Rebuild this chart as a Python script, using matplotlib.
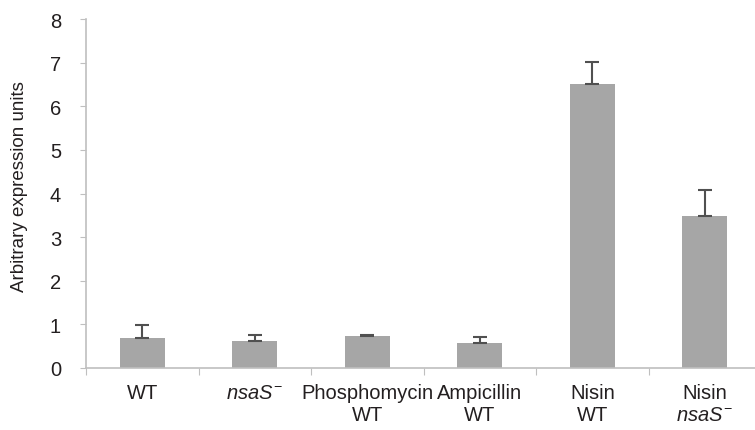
import matplotlib
matplotlib.use("Agg")
import matplotlib.pyplot as plt
import numpy as np

categories = ["WT", "$\\mathit{nsaS}^{-}$", "Phosphomycin\nWT", "Ampicillin\nWT",
              "Nisin\nWT", "Nisin\n$\\mathit{nsaS}^{-}$"]
values = [0.68, 0.63, 0.73, 0.57, 6.51, 3.49]
errors = [0.31, 0.13, 0.03, 0.13, 0.50, 0.60]
yticks = [0, 1, 2, 3, 4, 5, 6, 7, 8]

plt.rcParams['font.family'] = ['Liberation Sans', 'DejaVu Sans']
plt.rcParams['mathtext.fontset'] = 'custom'
plt.rcParams['mathtext.rm'] = 'Liberation Sans'
plt.rcParams['mathtext.it'] = 'Liberation Sans:italic'

fig = plt.figure(figsize=(7.55, 4.31), dpi=100)
ax = fig.add_axes([86/755, 62/431, 675/755, 349/431])

x = np.arange(len(categories)) + 0.5
ax.bar(x, values, width=0.4, color="#a6a6a6", zorder=2)
ax.errorbar(x, values, yerr=[np.zeros(len(errors)), errors], fmt='none',
            ecolor="#505050", elinewidth=1.5, capsize=5, capthick=1.5, zorder=3)

ax.set_xlim(0, len(categories))
ax.set_ylim(0, 8)
ax.set_yticks(yticks)
ax.set_yticklabels([str(t) for t in yticks])
ax.set_xticks(np.arange(len(categories) + 1))
ax.set_xticklabels([])
ax.set_xticks(x, minor=True)
ax.set_xticklabels(categories, minor=True, fontsize=14.5, color="#231f20", linespacing=1.2)
ax.tick_params(axis='x', which='minor', length=0, pad=11)
ax.tick_params(axis='x', which='major', length=5, direction='out', color="#bfbfbf")
ax.tick_params(axis='y', length=4, direction='out', color="#bfbfbf", labelsize=14.5,
               labelcolor="#231f20", pad=14)

for s in ['top', 'right']:
    ax.spines[s].set_visible(False)
for s in ['left', 'bottom']:
    ax.spines[s].set_color("#bfbfbf")
    ax.spines[s].set_linewidth(1.2)

ax.set_ylabel("Arbitrary expression units", fontsize=13.5, color="#231f20")
ax.yaxis.set_label_coords(-0.086, 0.523)

fig.savefig("out.png", dpi=100)
